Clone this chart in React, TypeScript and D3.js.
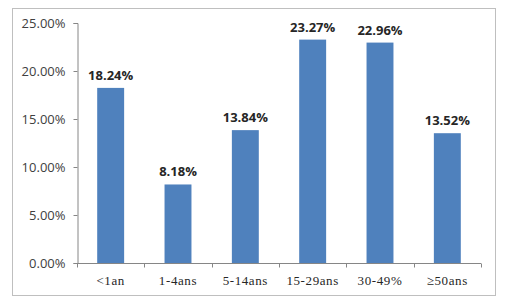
import React, { useEffect, useRef } from "react";
import * as d3 from "d3";

const categories = ["<1an", "1-4ans", "5-14ans", "15-29ans", "30-49%", "≥50ans"];
const values = [18.24, 8.18, 13.84, 23.27, 22.96, 13.52];
const yTicks = [0, 5, 10, 15, 20, 25];

function App() {
  const svgRef = useRef<SVGSVGElement>(null);

  useEffect(() => {
    const svg = d3.select(svgRef.current);
    svg.selectAll("*").remove();

    const width = 508;
    const height = 304;
    const margin = { top: 23, right: 27, bottom: 41, left: 77 };

    svg.attr("width", width).attr("height", height);

    // outer chart frame
    svg
      .append("rect")
      .attr("x", 12.5)
      .attr("y", 8.5)
      .attr("width", 483)
      .attr("height", 287)
      .attr("fill", "#fff")
      .attr("stroke", "#bfbfbf")
      .attr("stroke-width", 1);

    const x = d3
      .scaleBand()
      .domain(categories)
      .range([margin.left, width - margin.right])
      .paddingInner(0.6)
      .paddingOuter(0.3);

    const y = d3
      .scaleLinear()
      .domain([0, 25])
      .range([height - margin.bottom, margin.top]);

    // bars
    svg
      .append("g")
      .selectAll("rect")
      .data(values)
      .join("rect")
      .attr("x", (d, i) => x(categories[i])!)
      .attr("y", (d) => y(d))
      .attr("width", x.bandwidth())
      .attr("height", (d) => y(0) - y(d))
      .attr("fill", "#4f81bd");

    // data labels
    svg
      .append("g")
      .selectAll("text")
      .data(values)
      .join("text")
      .attr("x", (d, i) => x(categories[i])! + x.bandwidth() / 2)
      .attr("y", (d) => y(d) - 8)
      .attr("text-anchor", "middle")
      .attr("font-family", "'Open Sans', 'DejaVu Sans', sans-serif")
      .attr("font-weight", "bold")
      .attr("font-size", 13)
      .attr("fill", "#262626")
      .text((d) => d.toFixed(2) + "%");

    // y axis
    const yAxis = svg
      .append("g")
      .attr("transform", `translate(${margin.left + 0.5},0)`)
      .call(
        d3
          .axisLeft(y)
          .tickValues(yTicks)
          .tickSize(4)
          .tickPadding(8)
          .tickFormat((d) => (d as number).toFixed(2) + "%")
      );
    yAxis.select(".domain").attr("stroke", "#868686");
    yAxis.selectAll(".tick line").attr("stroke", "#868686");
    yAxis
      .selectAll(".tick text")
      .attr("font-family", "'Open Sans', 'DejaVu Sans', sans-serif")
      .attr("font-size", 13)
      .attr("fill", "#404040");

    // x axis with ticks between categories
    const xAxisG = svg
      .append("g")
      .attr("transform", `translate(0,${y(0) + 0.5})`);
    xAxisG
      .append("line")
      .attr("x1", margin.left)
      .attr("x2", width - margin.right)
      .attr("stroke", "#868686");
    const step = x.step();
    const boundaries = d3.range(categories.length + 1).map((i) => margin.left + i * step);
    xAxisG
      .selectAll("line.sep")
      .data(boundaries)
      .join("line")
      .attr("class", "sep")
      .attr("x1", (d) => Math.round(d) + 0.5)
      .attr("x2", (d) => Math.round(d) + 0.5)
      .attr("y1", 0)
      .attr("y2", 4)
      .attr("stroke", "#868686");
    xAxisG
      .selectAll("text")
      .data(categories)
      .join("text")
      .attr("x", (d) => x(d)! + x.bandwidth() / 2)
      .attr("y", 21)
      .attr("text-anchor", "middle")
      .attr("font-family", "'Liberation Serif', 'DejaVu Serif', serif")
      .attr("font-size", 13)
      .attr("letter-spacing", 0.6)
      .attr("fill", "#262626")
      .text((d) => d);
  }, []);

  return <svg ref={svgRef} style={{ display: "block", position: "absolute", left: 0, top: 0 }} />;
}

export default App;
